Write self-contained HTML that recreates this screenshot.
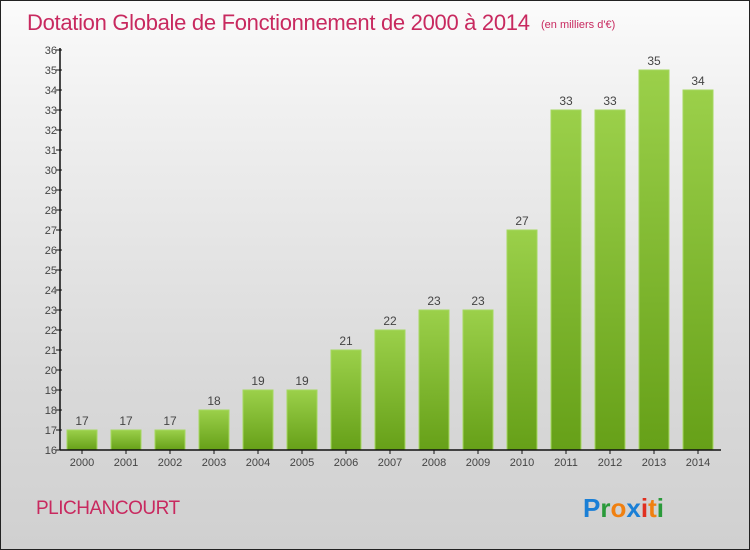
<!DOCTYPE html>
<html><head><meta charset="utf-8"><style>
body{margin:0;}
#c{width:750px;height:550px;position:relative;box-sizing:border-box;border:1px solid #222;background:linear-gradient(#fbfbfb,#f0f0f0 20%,#d9d9d9 70%,#d0d0d0);font-family:"Liberation Sans",sans-serif;overflow:hidden}
</style></head><body>
<div id="c">
<svg width="750" height="550" id="s" style="position:absolute;left:-1px;top:-1px">
<defs><linearGradient id="g" x1="0" y1="0" x2="0" y2="1"><stop offset="0" stop-color="#9bd04a"/><stop offset="1" stop-color="#66a018"/></linearGradient></defs>
<text x="27" y="30" font-size="22" fill="#c8295f" style="letter-spacing:-0.3px">Dotation Globale de Fonctionnement de 2000 à 2014</text>
<text x="541" y="28" font-size="11" fill="#c8295f">(en milliers d'€)</text>
<text x="36" y="514" font-size="19" fill="#c8295f" style="letter-spacing:-0.5px">PLICHANCOURT</text>
<g font-size="26" font-weight="bold" font-family="'Liberation Sans',sans-serif">
<text x="583" y="517"><tspan fill="#1a7fd6">P</tspan><tspan fill="#2a9a3a">r</tspan><tspan fill="#f08010">o</tspan><tspan fill="#1a7fd6">x</tspan><tspan fill="#e03020">i</tspan><tspan fill="#f08010">t</tspan><tspan fill="#2a9a3a">i</tspan></text></g>
<g id="plot"></g>
</svg></div>
<script>
const years=["2000","2001","2002","2003","2004","2005","2006","2007","2008","2009","2010","2011","2012","2013","2014"];
const values=[17,17,17,18,19,19,21,22,23,23,27,33,33,35,34];
const yTicks=[16,17,18,19,20,21,22,23,24,25,26,27,28,29,30,31,32,33,34,35,36];
const NS="http://www.w3.org/2000/svg";
const g=document.getElementById('plot');
const y0=450,x0=60,yMin=16,pxU=20,step=44;
const yS=v=>y0-(v-yMin)*pxU;
const xS=i=>x0+step*i+22;
function mk(t,a){const e=document.createElementNS(NS,t);for(const k in a)e.setAttribute(k,a[k]);g.appendChild(e);return e;}
yTicks.forEach(v=>{
 const l=mk('line',{x1:x0-4,x2:x0+2,y1:yS(v),y2:yS(v),stroke:'#111'});
 
 
 const t=mk('text',{x:x0-3,y:yS(v)+4,'text-anchor':'end','font-size':11,fill:'#444'});
 t.textContent=v;
 
 
});
values.forEach((v,i)=>{
 const cx=xS(i);
 const r=mk('rect',{x:cx-15,y:yS(v),width:30,height:y0-yS(v),fill:'url(#g)',stroke:'#a5d860','stroke-width':1});
 
 
 const t=mk('text',{x:cx,y:yS(v)-5,'text-anchor':'middle','font-size':12,fill:'#444'});
 t.textContent=v;
 
 
 const tk=mk('line',{x1:cx,x2:cx,y1:y0,y2:y0+4,stroke:'#111'});
 
 
 const xl=mk('text',{x:cx,y:y0+16,'text-anchor':'middle','font-size':11,fill:'#444'});
 xl.textContent=years[i];
 
 
});
const ya=mk('line',{x1:x0,x2:x0,y1:yS(36)-2,y2:y0,stroke:'#111','stroke-width':1.5});


const xa=mk('line',{x1:x0,x2:x0+step*years.length+1,y1:y0,y2:y0,stroke:'#111','stroke-width':1.5});


</script>
</body></html>
